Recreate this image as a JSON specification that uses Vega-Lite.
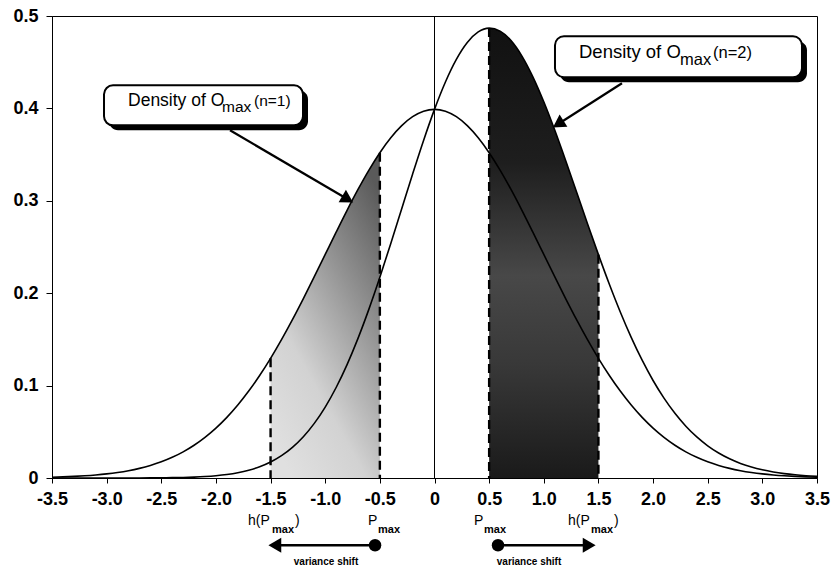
{
  "$schema": "https://vega.github.io/schema/vega-lite/v6.json",
  "width": 765,
  "height": 462,
  "autosize": {"type": "none"},
  "padding": {"left": 52, "top": 16, "right": 16, "bottom": 91},
  "background": "white",
  "config": {
    "view": {"stroke": "black", "strokeWidth": 1},
    "font": "Liberation Sans",
    "axis": {
      "domainColor": "black", "tickColor": "black", "labelColor": "black",
      "labelFont": "Liberation Sans", "labelFontWeight": "bold", "labelFontSize": 18,
      "grid": false, "domainWidth": 1, "tickWidth": 1
    }
  },
  "datasets": {
    "curves": [
      {"x": -3.5, "n1": 0.000873, "n2": 0.0},
      {"x": -3.4, "n1": 0.001232, "n2": 0.000001},
      {"x": -3.3, "n1": 0.001723, "n2": 0.000002},
      {"x": -3.2, "n1": 0.002384, "n2": 0.000003},
      {"x": -3.1, "n1": 0.003267, "n2": 0.000006},
      {"x": -3.0, "n1": 0.004432, "n2": 0.000012},
      {"x": -2.9, "n1": 0.005953, "n2": 0.000022},
      {"x": -2.8, "n1": 0.007915, "n2": 0.000041},
      {"x": -2.7, "n1": 0.010421, "n2": 0.000072},
      {"x": -2.6, "n1": 0.013583, "n2": 0.000127},
      {"x": -2.5, "n1": 0.017528, "n2": 0.000218},
      {"x": -2.4, "n1": 0.022395, "n2": 0.000367},
      {"x": -2.3, "n1": 0.028327, "n2": 0.000607},
      {"x": -2.2, "n1": 0.035475, "n2": 0.000986},
      {"x": -2.1, "n1": 0.043984, "n2": 0.001571},
      {"x": -2.0, "n1": 0.053991, "n2": 0.002457},
      {"x": -1.9, "n1": 0.065616, "n2": 0.003769},
      {"x": -1.8, "n1": 0.07895, "n2": 0.005673},
      {"x": -1.7, "n1": 0.094049, "n2": 0.008383},
      {"x": -1.6, "n1": 0.110921, "n2": 0.012157},
      {"x": -1.5, "n1": 0.129518, "n2": 0.017306},
      {"x": -1.4, "n1": 0.149727, "n2": 0.024184},
      {"x": -1.3, "n1": 0.171369, "n2": 0.033177},
      {"x": -1.2, "n1": 0.194186, "n2": 0.04469},
      {"x": -1.1, "n1": 0.217852, "n2": 0.059112},
      {"x": -1.0, "n1": 0.241971, "n2": 0.076782},
      {"x": -0.9, "n1": 0.266085, "n2": 0.097952},
      {"x": -0.8, "n1": 0.289692, "n2": 0.122748},
      {"x": -0.7, "n1": 0.312254, "n2": 0.151106},
      {"x": -0.6, "n1": 0.333225, "n2": 0.182774},
      {"x": -0.5, "n1": 0.352065, "n2": 0.217252},
      {"x": -0.4, "n1": 0.36827, "n2": 0.253797},
      {"x": -0.3, "n1": 0.381388, "n2": 0.291449},
      {"x": -0.2, "n1": 0.391043, "n2": 0.329055},
      {"x": -0.1, "n1": 0.396953, "n2": 0.365333},
      {"x": 0.0, "n1": 0.398942, "n2": 0.398942},
      {"x": 0.1, "n1": 0.396953, "n2": 0.428573},
      {"x": 0.2, "n1": 0.391043, "n2": 0.453031},
      {"x": 0.3, "n1": 0.381388, "n2": 0.471327},
      {"x": 0.4, "n1": 0.36827, "n2": 0.482743},
      {"x": 0.5, "n1": 0.352065, "n2": 0.486878},
      {"x": 0.6, "n1": 0.333225, "n2": 0.483676},
      {"x": 0.7, "n1": 0.312254, "n2": 0.473402},
      {"x": 0.8, "n1": 0.289692, "n2": 0.456636},
      {"x": 0.9, "n1": 0.266085, "n2": 0.434218},
      {"x": 1.0, "n1": 0.241971, "n2": 0.40716},
      {"x": 1.1, "n1": 0.217852, "n2": 0.376592},
      {"x": 1.2, "n1": 0.194186, "n2": 0.343682},
      {"x": 1.3, "n1": 0.171369, "n2": 0.309561},
      {"x": 1.4, "n1": 0.149727, "n2": 0.27527},
      {"x": 1.5, "n1": 0.129518, "n2": 0.24173},
      {"x": 1.6, "n1": 0.110921, "n2": 0.209685},
      {"x": 1.7, "n1": 0.094049, "n2": 0.179715},
      {"x": 1.8, "n1": 0.07895, "n2": 0.152227},
      {"x": 1.9, "n1": 0.065616, "n2": 0.127463},
      {"x": 2.0, "n1": 0.053991, "n2": 0.105525},
      {"x": 2.1, "n1": 0.043984, "n2": 0.086397},
      {"x": 2.2, "n1": 0.035475, "n2": 0.069964},
      {"x": 2.3, "n1": 0.028327, "n2": 0.056047},
      {"x": 2.4, "n1": 0.022395, "n2": 0.044423},
      {"x": 2.5, "n1": 0.017528, "n2": 0.034838},
      {"x": 2.6, "n1": 0.013583, "n2": 0.027039},
      {"x": 2.7, "n1": 0.010421, "n2": 0.02077},
      {"x": 2.8, "n1": 0.007915, "n2": 0.015789},
      {"x": 2.9, "n1": 0.005953, "n2": 0.011884},
      {"x": 3.0, "n1": 0.004432, "n2": 0.008852},
      {"x": 3.1, "n1": 0.003267, "n2": 0.006528},
      {"x": 3.2, "n1": 0.002384, "n2": 0.004765},
      {"x": 3.3, "n1": 0.001723, "n2": 0.003444},
      {"x": 3.4, "n1": 0.001232, "n2": 0.002463},
      {"x": 3.5, "n1": 0.000873, "n2": 0.001746}
    ],
    "bounds": [
      {"x": -1.5, "top": 0.129518},
      {"x": -0.5, "top": 0.352065},
      {"x": 0.5, "top": 0.486878},
      {"x": 1.5, "top": 0.24173}
    ],
    "boxes": [
      {"x": -3.0241, "x2": -1.2032, "y": 0.425, "y2": 0.3817},
      {"x": 1.1025, "x2": 3.3626, "y": 0.4781, "y2": 0.4337}
    ],
    "callout": [
      {"box": 1, "x": -2.8045, "y": 0.4023, "t": "Density of O", "role": "main"},
      {"box": 1, "x": -1.9444, "y": 0.3958, "t": "max", "role": "sub"},
      {"box": 1, "x": -1.6516, "y": 0.4023, "t": "(n=1)", "role": "par"},
      {"box": 2, "x": 1.3222, "y": 0.4542, "t": "Density of O", "role": "main"},
      {"box": 2, "x": 2.2463, "y": 0.4466, "t": "max", "role": "sub"},
      {"box": 2, "x": 2.5483, "y": 0.4542, "t": "(n=2)", "role": "par"}
    ],
    "arrows": [
      {"id": "a1", "x": -1.8712, "y": 0.3763, "x2": -0.7942, "y2": 0.3017},
      {"id": "a2", "x": 1.7156, "y": 0.4272, "x2": 1.1319, "y2": 0.3831},
      {"id": "b1", "x": -0.544, "y": -0.0728, "x2": -1.461, "y2": -0.0728},
      {"id": "b2", "x": 0.581, "y": -0.0728, "x2": 1.4155, "y2": -0.0728}
    ],
    "heads": [
      {"id": "a1", "x": -0.7942, "y": 0.3017},
      {"id": "a2", "x": 1.1319, "y": 0.3831},
      {"id": "b1", "x": -1.461, "y": -0.0728},
      {"id": "b2", "x": 1.4155, "y": -0.0728}
    ],
    "dots": [
      {"x": -0.544, "y": -0.0728},
      {"x": 0.581, "y": -0.0728}
    ],
    "ann": [
      {"x": -1.7065, "y": -0.0512, "t": "h(P", "role": "main"},
      {"x": -1.4869, "y": -0.0598, "t": "max", "role": "sub"},
      {"x": -1.2764, "y": -0.0512, "t": ")", "role": "main"},
      {"x": -0.6085, "y": -0.0512, "t": "P", "role": "main"},
      {"x": -0.517, "y": -0.0598, "t": "max", "role": "sub"},
      {"x": 0.3614, "y": -0.0512, "t": "P", "role": "main"},
      {"x": 0.4529, "y": -0.0598, "t": "max", "role": "sub"},
      {"x": 1.2215, "y": -0.0512, "t": "h(P", "role": "main"},
      {"x": 1.432, "y": -0.0598, "t": "max", "role": "sub"},
      {"x": 1.6424, "y": -0.0512, "t": ")", "role": "main"},
      {"x": -0.9928, "y": -0.0912, "t": "variance shift", "role": "vs"},
      {"x": 0.8647, "y": -0.0912, "t": "variance shift", "role": "vs"}
    ]
  },
  "encoding": {
    "x": {
      "field": "x", "type": "quantitative",
      "scale": {"domain": [-3.5, 3.5], "nice": false, "zero": false},
      "axis": {
        "title": null,
        "values": [-3.5, -3, -2.5, -2, -1.5, -1, -0.5, 0, 0.5, 1, 1.5, 2, 2.5, 3, 3.5],
        "tickSize": 5, "labelPadding": 7, "labelFlush": false,
        "labelExpr": "datum.value === 0 ? '0' : (datum.value < 0 ? '-' : '') + format(abs(datum.value), '.1f')"
      }
    }
  },
  "layer": [
    {
      "data": {"name": "curves"},
      "transform": [{"filter": "datum.x >= -1.501 && datum.x <= -0.499"}],
      "mark": {
        "type": "area", "interpolate": "monotone",
        "fill": {"gradient": "linear", "x1": 0.8, "y1": 0, "x2": 0.2, "y2": 1,
          "stops": [
            {"offset": 0, "color": "#5a5a5a"},
            {"offset": 0.35, "color": "#959595"},
            {"offset": 0.7, "color": "#d2d2d2"},
            {"offset": 1, "color": "#e0e0e0"}
          ]}
      },
      "encoding": {
        "y": {"field": "n1", "type": "quantitative", "title": null,
          "scale": {"domain": [0, 0.5], "nice": false, "zero": false},
          "axis": {"title": null, "values": [0, 0.1, 0.2, 0.3, 0.4, 0.5], "tickSize": 6, "labelPadding": 8,
            "labelExpr": "datum.value === 0 ? '0' : format(datum.value, '.1f')"}}
      }
    },
    {
      "data": {"name": "curves"},
      "transform": [{"filter": "datum.x >= 0.499 && datum.x <= 1.501"}],
      "mark": {
        "type": "area", "interpolate": "monotone",
        "fill": {"gradient": "linear", "x1": 0, "y1": 0, "x2": 0, "y2": 1,
          "stops": [
            {"offset": 0, "color": "#111111"},
            {"offset": 0.3, "color": "#1e1e1e"},
            {"offset": 0.55, "color": "#484848"},
            {"offset": 0.75, "color": "#383838"},
            {"offset": 1, "color": "#1a1a1a"}
          ]}
      },
      "encoding": {"y": {"field": "n2", "type": "quantitative", "title": null}}
    },
    {
      "data": {"name": "bounds"},
      "mark": {"type": "rule", "color": "black", "strokeWidth": 2.4, "strokeDash": [9, 5]},
      "encoding": {
        "y": {"field": "top", "type": "quantitative", "title": null},
        "y2": {"datum": 0}
      }
    },
    {
      "data": {"values": [{"x": 0, "top": 0.5}]},
      "mark": {"type": "rule", "color": "black", "strokeWidth": 1},
      "encoding": {
        "y": {"field": "top", "type": "quantitative", "title": null},
        "y2": {"datum": 0}
      }
    },
    {
      "data": {"name": "curves"},
      "mark": {"type": "line", "color": "black", "strokeWidth": 1.6, "interpolate": "monotone"},
      "encoding": {"y": {"field": "n1", "type": "quantitative", "title": null}}
    },
    {
      "data": {"name": "curves"},
      "mark": {"type": "line", "color": "black", "strokeWidth": 1.6, "interpolate": "monotone"},
      "encoding": {"y": {"field": "n2", "type": "quantitative", "title": null}}
    },
    {
      "data": {"name": "boxes"},
      "mark": {"type": "rect", "fill": "black", "cornerRadius": 9,
        "xOffset": 5, "x2Offset": 5, "yOffset": 5, "y2Offset": 5},
      "encoding": {
        "x2": {"field": "x2"},
        "y": {"field": "y", "type": "quantitative", "title": null},
        "y2": {"field": "y2"}
      }
    },
    {
      "data": {"name": "boxes"},
      "mark": {"type": "rect", "fill": "white", "stroke": "black", "strokeWidth": 2, "cornerRadius": 9},
      "encoding": {
        "x2": {"field": "x2"},
        "y": {"field": "y", "type": "quantitative", "title": null},
        "y2": {"field": "y2"}
      }
    },
    {
      "data": {"name": "callout"},
      "transform": [{"filter": "datum.role === 'main' && datum.box === 1"}],
      "mark": {"type": "text", "align": "left", "baseline": "alphabetic", "fontSize": 17.5, "color": "black", "font": "Liberation Sans"},
      "encoding": {"y": {"field": "y", "type": "quantitative", "title": null}, "text": {"field": "t"}}
    },
    {
      "data": {"name": "callout"},
      "transform": [{"filter": "datum.role === 'main' && datum.box === 2"}],
      "mark": {"type": "text", "align": "left", "baseline": "alphabetic", "fontSize": 18.5, "color": "black", "font": "Liberation Sans"},
      "encoding": {"y": {"field": "y", "type": "quantitative", "title": null}, "text": {"field": "t"}}
    },
    {
      "data": {"name": "callout"},
      "transform": [{"filter": "datum.role !== 'main' && datum.box === 1"}],
      "mark": {"type": "text", "align": "left", "baseline": "alphabetic", "fontSize": 15.5, "color": "black", "font": "Liberation Sans"},
      "encoding": {"y": {"field": "y", "type": "quantitative", "title": null}, "text": {"field": "t"}}
    },
    {
      "data": {"name": "callout"},
      "transform": [{"filter": "datum.role !== 'main' && datum.box === 2"}],
      "mark": {"type": "text", "align": "left", "baseline": "alphabetic", "fontSize": 16.5, "color": "black", "font": "Liberation Sans"},
      "encoding": {"y": {"field": "y", "type": "quantitative", "title": null}, "text": {"field": "t"}}
    },
    {
      "data": {"name": "arrows"},
      "transform": [{"filter": "datum.id === 'a1' || datum.id === 'a2'"}],
      "mark": {"type": "rule", "color": "black", "strokeWidth": 2.2},
      "encoding": {
        "x2": {"field": "x2"},
        "y": {"field": "y", "type": "quantitative", "title": null},
        "y2": {"field": "y2"}
      }
    },
    {
      "data": {"name": "arrows"},
      "transform": [{"filter": "datum.id === 'b1' || datum.id === 'b2'"}],
      "mark": {"type": "rule", "color": "black", "strokeWidth": 2.6},
      "encoding": {
        "x2": {"field": "x2"},
        "y": {"field": "y", "type": "quantitative", "title": null},
        "y2": {"field": "y2"}
      }
    },
    {
      "data": {"name": "heads"},
      "transform": [{"filter": "datum.id === 'a1'"}],
      "mark": {"type": "point", "shape": "triangle-right", "filled": true, "color": "black", "opacity": 1, "size": 210, "angle": 30.3},
      "encoding": {"y": {"field": "y", "type": "quantitative", "title": null}}
    },
    {
      "data": {"name": "heads"},
      "transform": [{"filter": "datum.id === 'a2'"}],
      "mark": {"type": "point", "shape": "triangle-right", "filled": true, "color": "black", "opacity": 1, "size": 210, "angle": 147.5},
      "encoding": {"y": {"field": "y", "type": "quantitative", "title": null}}
    },
    {
      "data": {"name": "heads"},
      "transform": [{"filter": "datum.id === 'b1'"}],
      "mark": {"type": "point", "shape": "triangle-left", "filled": true, "color": "black", "opacity": 1, "size": 220},
      "encoding": {"y": {"field": "y", "type": "quantitative", "title": null}}
    },
    {
      "data": {"name": "heads"},
      "transform": [{"filter": "datum.id === 'b2'"}],
      "mark": {"type": "point", "shape": "triangle-right", "filled": true, "color": "black", "opacity": 1, "size": 220},
      "encoding": {"y": {"field": "y", "type": "quantitative", "title": null}}
    },
    {
      "data": {"name": "dots"},
      "mark": {"type": "point", "shape": "circle", "filled": true, "color": "black", "opacity": 1, "size": 155},
      "encoding": {"y": {"field": "y", "type": "quantitative", "title": null}}
    },
    {
      "data": {"name": "ann"},
      "transform": [{"filter": "datum.role === 'main'"}],
      "mark": {"type": "text", "align": "left", "baseline": "alphabetic", "fontSize": 14, "color": "black", "font": "Liberation Sans"},
      "encoding": {"y": {"field": "y", "type": "quantitative", "title": null}, "text": {"field": "t"}}
    },
    {
      "data": {"name": "ann"},
      "transform": [{"filter": "datum.role === 'sub'"}],
      "mark": {"type": "text", "align": "left", "baseline": "alphabetic", "fontSize": 11, "fontWeight": "bold", "color": "black", "font": "Liberation Sans"},
      "encoding": {"y": {"field": "y", "type": "quantitative", "title": null}, "text": {"field": "t"}}
    },
    {
      "data": {"name": "ann"},
      "transform": [{"filter": "datum.role === 'vs'"}],
      "mark": {"type": "text", "align": "center", "baseline": "middle", "fontSize": 10, "fontWeight": "bold", "color": "black", "font": "Liberation Sans"},
      "encoding": {"y": {"field": "y", "type": "quantitative", "title": null}, "text": {"field": "t"}}
    }
  ]
}
